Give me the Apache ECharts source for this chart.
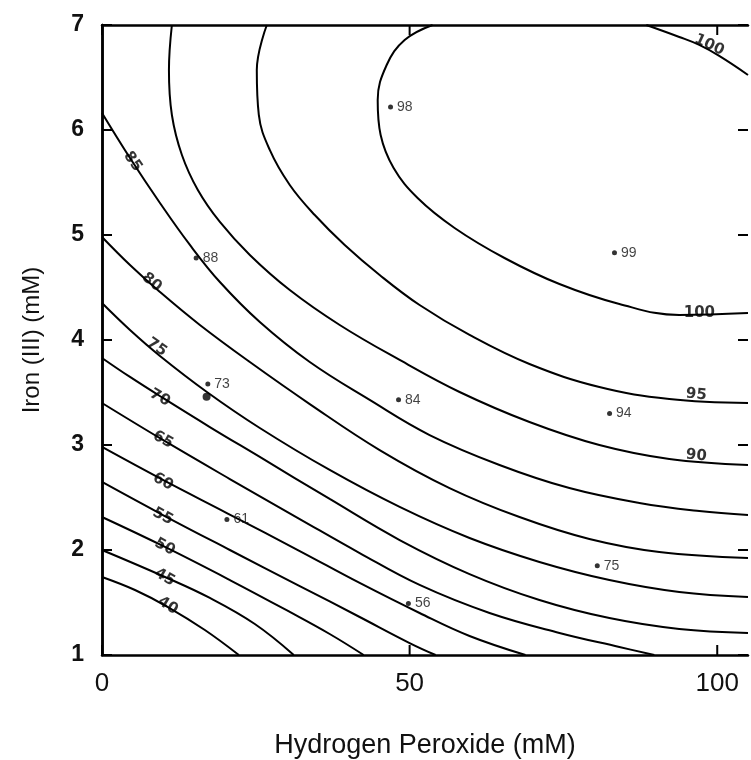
<!DOCTYPE html>
<html>
<head>
<meta charset="utf-8">
<script src="https://cdn.jsdelivr.net/npm/echarts@6/dist/echarts.min.js"></script>
<style>
html,body{margin:0;padding:0;background:#fff;}
#chart{width:751px;height:760px;}
</style>
</head>
<body>
<div id="chart"></div>
<script>
// ---- Axis ticks ----
const xTicks = [0, 50, 100];
const yTicks = [1, 2, 3, 4, 5, 6, 7];
const xRange = [0, 105];
const yRange = [1, 7];

// ---- Contour lines (x = H2O2 mM, y = Fe(III) mM) ----
const c40 = [[0,1.743],[5.36,1.619],[10.71,1.457],[16.72,1.238],[22.24,1.0]];
const c45 = [[0,2.0],[10.23,1.743],[17.53,1.543],[24.84,1.295],[31.17,1.0]];
const c50 = [[0,2.314],[10.23,2.029],[20.78,1.714],[30.52,1.41],[37.01,1.2],[42.53,1.0]];
const c55 = [[0,2.648],[9.9,2.333],[20.78,2.0],[32.14,1.657],[41.88,1.362],[50.0,1.114],[54.22,1.0]];
const c60 = [[0,2.981],[9.9,2.667],[20.29,2.352],[32.14,1.99],[41.88,1.686],[51.62,1.4],[59.74,1.181],[68.83,1.0]];
const c65 = [[0,3.4],[9.9,3.048],[20.78,2.676],[32.14,2.295],[41.88,1.971],[51.62,1.667],[62.99,1.4],[74.35,1.21],[84.09,1.076],[89.77,1.0]];
const c70 = [[0,3.829],[4.55,3.648],[9.9,3.448],[17.53,3.171],[25.65,2.886],[37.01,2.486],[48.38,2.095],[59.74,1.771],[71.1,1.524],[82.47,1.352],[93.83,1.248],[105,1.21]];
const c75 = [[0,4.352],[4.55,4.095],[9.42,3.848],[17.05,3.505],[25.65,3.162],[37.01,2.762],[48.38,2.41],[59.74,2.114],[71.1,1.886],[82.47,1.714],[93.83,1.6],[105,1.552]];
const c80 = [[0,4.981],[4.55,4.714],[9.42,4.457],[15.91,4.143],[24.03,3.79],[33.77,3.39],[45.13,2.952],[56.49,2.59],[67.86,2.314],[79.22,2.105],[90.58,1.981],[105,1.924]];
const c85 = [[0,6.162],[4.55,5.733],[9.42,5.305],[14.29,4.905],[19.16,4.552],[25.65,4.171],[33.77,3.79],[43.51,3.429],[53.25,3.095],[64.61,2.81],[75.97,2.59],[87.34,2.448],[97.08,2.371],[105,2.333]];
const c90 = [[11.36,7.0],[10.88,6.571],[11.36,6.143],[12.99,5.762],[15.58,5.429],[19.16,5.124],[24.03,4.81],[30.52,4.476],[38.64,4.143],[48.38,3.81],[58.12,3.505],[69.48,3.219],[80.84,3.0],[92.21,2.867],[105,2.81]];
const c95 = [[26.79,7.0],[25.16,6.571],[25.49,6.143],[27.27,5.81],[30.52,5.476],[34.58,5.19],[39.45,4.905],[45.13,4.619],[51.62,4.333],[59.74,4.048],[69.48,3.771],[80.84,3.552],[92.21,3.438],[105,3.4]];
const c100a = [[53.73,7.0],[49.19,6.857],[46.27,6.619],[44.81,6.286],[45.29,5.952],[47.4,5.638],[51.3,5.352],[57.31,5.067],[65.42,4.781],[74.35,4.533],[84.09,4.343],[93.83,4.238],[105,4.257]];
const c100b = [[88.47,7.0],[93.83,6.886],[97.08,6.81],[100.32,6.705],[105,6.524]];

// ---- Contour label texts and where they sit on each line ----
const contourLabelText = ['40','45','50','55','60','65','70','75','80','85','90','95','100','100'];
const contourLabelX = [10.7,10.2,10.2,9.9,9.9,9.9,9.4,8.9,8.1,5.0,96.6,96.6,97.1,98.7];
const contourLabelY = [1.47,1.74,2.03,2.32,2.65,3.05,3.45,3.93,4.55,5.70,2.90,3.48,4.26,6.81];

// ---- Experimental points and their yields ----
const obsX = [46.9, 15.3, 83.3, 17.2, 48.2, 82.5, 20.3, 80.5, 49.8];
const obsY = [6.22, 4.78, 4.83, 3.58, 3.43, 3.30, 2.29, 1.85, 1.49];
const obsLabel = ['98','88','99','73','84','94','61','75','56'];
const extraDotX = [17.0];
const extraDotY = [3.46];

// ---- build ----
const contours = [c40,c45,c50,c55,c60,c65,c70,c75,c80,c85,c90,c95,c100a,c100b];
const labelRot = [-32,-30,-28,-28,-30,-30,-30,-35,-40,-55,-5,-5,0,-25];
const TICK = 10;

const lineSeries = contours.map(d => ({
  type: 'line', data: d, smooth: 0.4, showSymbol: false, silent: true, clip: true,
  lineStyle: {color: '#000', width: 2}, z: 2
}));

const labelSeries = {
  type: 'scatter', symbolSize: 0, silent: true, z: 5,
  data: contourLabelText.map((t, i) => ({
    value: [contourLabelX[i], contourLabelY[i]], name: t,
    label: {rotate: labelRot[i]}
  })),
  label: {
    show: true, position: 'inside', formatter: p => p.name,
    fontFamily: 'DejaVu Sans', fontSize: 15, fontWeight: 'bold', color: '#000'
  }
};

const obsSeries = {
  type: 'scatter', symbol: 'circle', symbolSize: 5, silent: true, z: 6,
  itemStyle: {color: '#000'},
  data: obsX.map((x, i) => ({value: [x, obsY[i]], name: obsLabel[i]})),
  label: {
    show: true, position: 'right', distance: 4, formatter: p => p.name,
    fontFamily: 'Liberation Sans', fontSize: 14, color: '#111'
  }
};

const extraSeries = {
  type: 'scatter', symbol: 'circle', symbolSize: 8, silent: true, z: 6,
  itemStyle: {color: '#000'},
  data: extraDotX.map((x, i) => [x, extraDotY[i]])
};

// inward tick marks on all four sides, placed through the axes' own scales
const tickStyle = {stroke: '#000', lineWidth: 2};
const yTickSeries = {
  type: 'custom', silent: true, clip: false, z: 7,
  data: yTicks.map(v => [xRange[0], v]),
  renderItem: (params, api) => {
    const y = api.value(1);
    const pL = api.coord([xRange[0], y]);
    const pR = api.coord([xRange[1], y]);
    return {type: 'group', children: [
      {type: 'line', shape: {x1: pL[0], y1: pL[1], x2: pL[0] + TICK, y2: pL[1]}, style: tickStyle},
      {type: 'line', shape: {x1: pR[0], y1: pR[1], x2: pR[0] - TICK, y2: pR[1]}, style: tickStyle}
    ]};
  }
};
const xTickSeries = {
  type: 'custom', silent: true, clip: false, z: 7,
  data: xTicks.map(v => [v, yRange[0]]),
  renderItem: (params, api) => {
    const x = api.value(0);
    const pB = api.coord([x, yRange[0]]);
    const pT = api.coord([x, yRange[1]]);
    return {type: 'group', children: [
      {type: 'line', shape: {x1: pB[0], y1: pB[1], x2: pB[0], y2: pB[1] - TICK}, style: tickStyle},
      {type: 'line', shape: {x1: pT[0], y1: pT[1], x2: pT[0], y2: pT[1] + TICK}, style: tickStyle}
    ]};
  }
};

const chart = echarts.init(document.getElementById('chart'), null, {renderer: 'canvas'});
chart.setOption({
  animation: false,
  backgroundColor: '#fff',
  grid: {left: 102, right: 3, top: 25, bottom: 105, show: false, containLabel: false, outerBoundsMode: 'none'},
  xAxis: [{
    type: 'value', min: xRange[0], max: xRange[1], interval: 50, position: 'bottom',
    name: 'Hydrogen Peroxide (mM)', nameLocation: 'middle', nameGap: 77,
    nameTextStyle: {fontFamily: 'Liberation Sans', fontSize: 27, color: '#111'},
    axisLine: {show: true, lineStyle: {color: '#000', width: 2.5}},
    axisTick: {show: false},
    axisLabel: {showMaxLabel: false, margin: 16, fontFamily: 'Liberation Sans', fontSize: 26, color: '#111'},
    splitLine: {show: false}
  }, {
    type: 'value', min: xRange[0], max: xRange[1], interval: 50, position: 'top',
    axisLine: {show: true, lineStyle: {color: '#000', width: 2.5}},
    axisTick: {show: false}, axisLabel: {show: false}, splitLine: {show: false}
  }],
  yAxis: [{
    type: 'value', min: yRange[0], max: yRange[1], interval: 1, position: 'left',
    name: 'Iron (III) (mM)', nameLocation: 'middle', nameGap: 58, nameRotate: 90,
    nameTextStyle: {fontFamily: 'Liberation Sans', fontSize: 24, color: '#111'},
    axisLine: {show: true, lineStyle: {color: '#000', width: 2.5}},
    axisTick: {show: false},
    axisLabel: {margin: 18, fontFamily: 'Liberation Sans', fontSize: 23, fontWeight: 'bold', color: '#111'},
    splitLine: {show: false}
  }, {
    type: 'value', min: yRange[0], max: yRange[1], interval: 1, position: 'right',
    axisLine: {show: true, lineStyle: {color: '#000', width: 2.5}},
    axisTick: {show: false}, axisLabel: {show: false}, splitLine: {show: false}
  }],
  series: [...lineSeries, labelSeries, obsSeries, extraSeries, yTickSeries, xTickSeries]
});
</script>
</body>
</html>
